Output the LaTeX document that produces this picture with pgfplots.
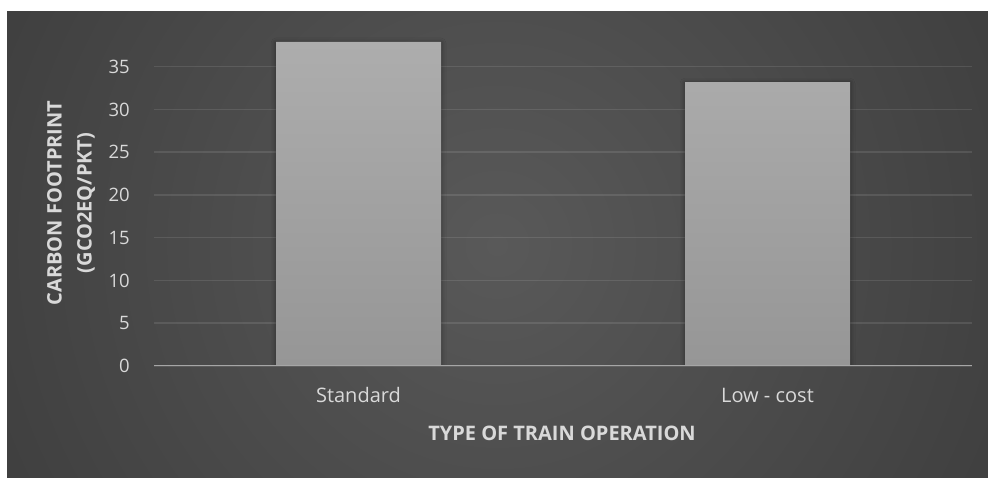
\documentclass[border=0pt]{standalone}
\usepackage{pgfplots}
\pgfplotsset{compat=1.18}
\usepackage{fontspec}
\setmainfont{Open Sans}
\usetikzlibrary{shadows.blur}
\definecolor{bgin}{HTML}{595959}
\definecolor{bgout}{HTML}{262626}
\definecolor{txt}{HTML}{D9D9D9}
\definecolor{bartop}{HTML}{ADADAD}
\definecolor{barbot}{HTML}{969696}
\definecolor{axln}{HTML}{A6A6A6}
\pgfdeclareradialshading{bgshade}{\pgfpoint{0bp}{0bp}}{color(0bp)=(bgin); color(50bp)=(bgout)}
\begin{document}
\begin{tikzpicture}[x=1pt,y=1pt]
\useasboundingbox (0,0) rectangle (988,478);
\fill[white] (0,0) rectangle (988,478);
\begin{scope}
\clip (7,0) rectangle (988,466);
\shade[shading=bgshade] (-46,-310) rectangle (1040,776);
\end{scope}
\begin{axis}[
  at={(154pt,112pt)}, anchor=south west,
  scale only axis, width=818pt, height=342pt,
  xmin=-0.5, xmax=1.5, ymin=0, ymax=40,
  xtick={0,1}, xticklabels={Standard, Low - cost},
  ytick={0,5,...,35},
  /pgf/number format/assume math mode=true,
  axis line style={draw=none},
  major tick length=0pt, tick style={draw=none},
  ymajorgrids, grid style={white, opacity=0.1, line width=1.5pt},
  tick label style={font=\fontsize{18.5}{21}\selectfont, text=txt},
  yticklabel style={anchor=east, inner sep=0pt, xshift=-24pt},
  xticklabel style={anchor=base, inner sep=0pt, yshift=-37pt, font=\fontsize{20}{24}\selectfont},
  xlabel={TYPE OF TRAIN OPERATION},
  ylabel={CARBON FOOTPRINT\\(GCO2EQ/PKT)},
  label style={font=\bfseries\fontsize{20}{30}\selectfont, text=txt},
  xlabel style={at={(axis description cs:0.4988,-0.197)}, anchor=center},
  ylabel style={at={(axis description cs:-0.1015,0.4766)}, anchor=center, align=center},
]
\addplot[ybar, bar width=165pt, draw=none, top color=bartop, bottom color=barbot,
  blur shadow={shadow xshift=0pt, shadow yshift=-1pt, shadow opacity=45, shadow blur radius=5pt}]
  coordinates {(0,37.9) (1,33.2)};
\draw[axln, line width=2.2pt] (axis cs:-0.5,0) -- (axis cs:1.5,0);
\end{axis}
\end{tikzpicture}
\end{document}
